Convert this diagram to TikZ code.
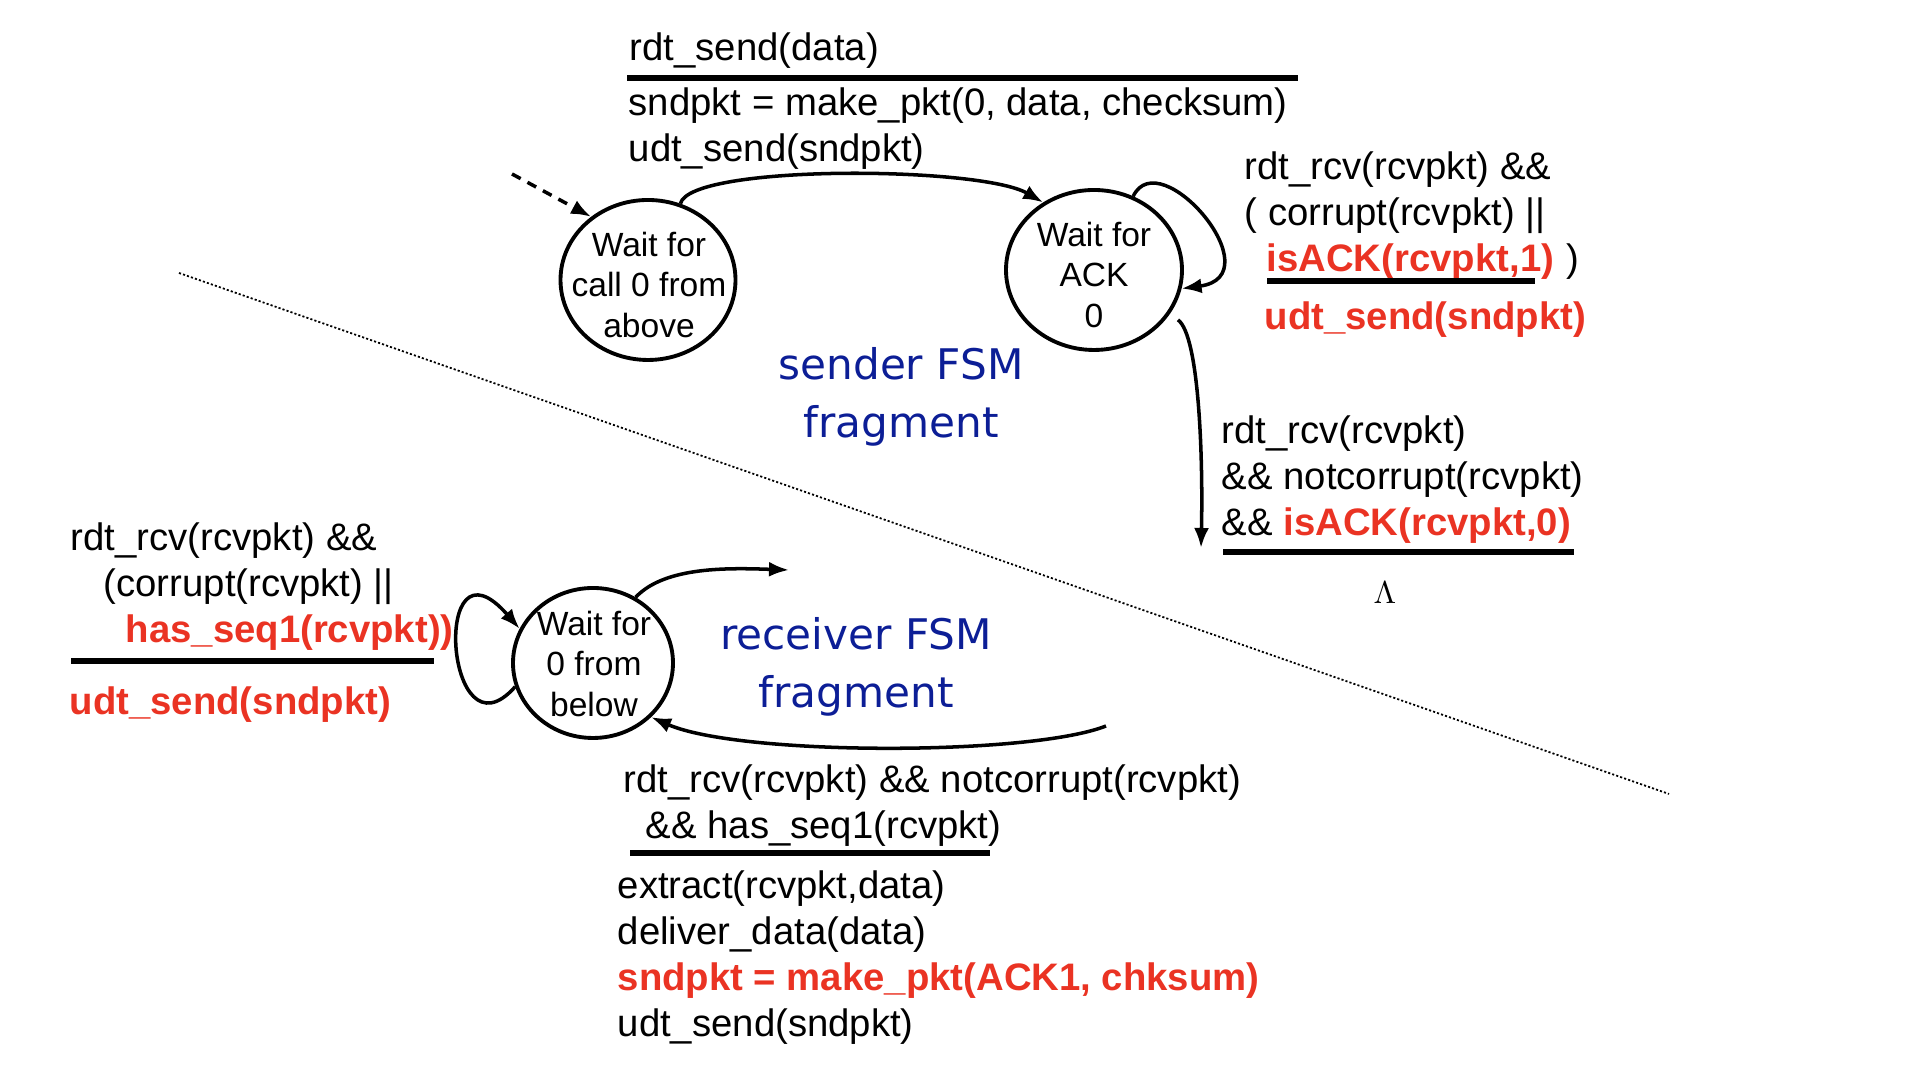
\documentclass[tikz,border=0pt]{standalone}
\usepackage{fontspec}
\setmainfont{Liberation Sans}
\newfontfamily\fsmfont{DejaVu Sans}
\usetikzlibrary{shapes.geometric,arrows.meta}
\definecolor{fsmred}{RGB}{234,51,35}
\definecolor{fsmblue}{RGB}{12,30,150}
\newcommand{\redtxt}[1]{\textcolor{fsmred}{\bfseries #1}}

\begin{document}
\begin{tikzpicture}[>={Latex[length=2mm,width=1.5mm]},
  state/.style={draw,ellipse,line width=1.1pt,inner sep=0pt},
  statetext/.style={align=center,inner sep=0pt,font=\fontsize{9.55}{11.65}\selectfont},
  lbl/.style={anchor=base west,inner sep=0pt,align=left,font=\fontsize{10.9}{13.1}\selectfont},
  fsmname/.style={align=center,text=fsmblue,font=\fsmfont\fontsize{12}{16.5}\selectfont},
  bar/.style={line width=1.6pt},
  trans/.style={->,line width=1pt}]
  \useasboundingbox (0,0) rectangle (19.10,10.66);
  % 分隔线
  \draw[line width=0.5pt,dash pattern=on 0.6pt off 0.6pt] (1.79,7.93) -- (16.69,2.72);
  % 发送方状态
  \node[state,minimum width=1.75cm,minimum height=1.60cm] (wcall) at (6.48,7.86) {};
  \node[statetext] (wcalltxt) at (6.49,7.81) {Wait for\\call 0 from\\above};
  \node[state,minimum width=1.76cm,minimum height=1.60cm] (wack) at (10.94,7.96) {};
  \node[statetext] (wacktxt) at (10.94,7.91) {Wait for\\ACK\\0};
  % 接收方状态
  \node[state,minimum width=1.60cm,minimum height=1.50cm] (wbelow) at (5.93,4.03) {};
  \node[statetext] (wbelowtxt) at (5.94,4.02) {Wait for\\0 from\\below};
  % 名称
  \node[fsmname] (sendername) at (9.01,6.69) {sender FSM\\fragment};
  \node[fsmname] (recvname) at (8.56,3.99) {receiver FSM\\fragment};
  % 初始箭头
  \coordinate (init) at (5.12,8.92);
  \draw[trans,dash pattern=on 2.8pt off 2.2pt] (init) -- (wcall.132);
  % rdt_send （多行标签按末行基线定位）
  \draw[trans] (wcall.67) .. controls (6.90,9.02) and (9.80,9.00) .. (wack.127);
  \node[lbl] (sendev) at (6.29,10.05) {rdt\_send(data)};
  \draw[bar] (6.27,9.88) -- (12.98,9.88);
  \node[lbl] (sendact) at (6.28,9.04) {sndpkt = make\_pkt(0, data, checksum)\\udt\_send(sndpkt)};
  % 重传自环
  \draw[trans] (wack.62) .. controls (11.60,9.25) and (12.75,7.90) .. (wack.-12);
  \node[lbl] (loopcond) at (12.44,7.94) {rdt\_rcv(rcvpkt) \&\&\\( corrupt(rcvpkt) ||\\\hspace*{0.22cm}\redtxt{isACK(rcvpkt,1)}\hspace{0.12cm})};
  \draw[bar] (12.67,7.85) -- (15.35,7.85);
  \node[lbl] (loopact) at (12.64,7.36) {\redtxt{udt\_send(sndpkt)}};
  % ACK0 到达
  \coordinate (ackout) at (12.01,5.18);
  \draw[trans] ([shift={(0.08,-0.06)}]wack.-30) .. controls (12.00,7.30) and (12.03,6.00) .. (ackout);
  \node[lbl] (ackcond) at (12.21,5.30) {rdt\_rcv(rcvpkt)\\\&\& notcorrupt(rcvpkt)\\\&\& \redtxt{isACK(rcvpkt,0)}};
  \draw[bar] (12.23,5.14) -- (15.74,5.14);
  \node[font=\fontsize{9}{11}\selectfont] (ackact) at (13.85,4.73) {$\Lambda$};
  % 接收方自环
  \draw[trans] (wbelow.197) .. controls (4.45,3.00) and (4.30,5.40) .. (wbelow.155);
  \node[lbl] (badcond) at (0.70,4.23) {rdt\_rcv(rcvpkt) \&\&\\\hspace*{0.33cm}(corrupt(rcvpkt) ||\\\hspace*{0.55cm}\redtxt{has\_seq1(rcvpkt))}};
  \draw[bar] (0.71,4.05) -- (4.34,4.05);
  \node[lbl] (badact) at (0.69,3.51) {\redtxt{udt\_send(sndpkt)}};
  % 接收方出入箭头
  \coordinate (belowout) at (7.89,4.96);
  \draw[trans] (wbelow.57) .. controls (6.65,5.00) and (7.30,4.98) .. (belowout);
  \coordinate (belowin) at (11.06,3.40);
  \draw[trans] (belowin) .. controls (10.30,3.10) and (7.40,3.10) .. (wbelow.-43);
  \node[lbl] (okcond) at (6.23,2.27) {rdt\_rcv(rcvpkt) \&\& notcorrupt(rcvpkt)\\\hspace*{0.22cm}\&\& has\_seq1(rcvpkt)};
  \draw[bar] (6.30,2.13) -- (9.90,2.13);
  \node[lbl] (okact) at (6.17,0.29) {extract(rcvpkt,data)\\deliver\_data(data)\\\redtxt{sndpkt = make\_pkt(ACK1, chksum)}\\udt\_send(sndpkt)};
\end{tikzpicture}
\end{document}
